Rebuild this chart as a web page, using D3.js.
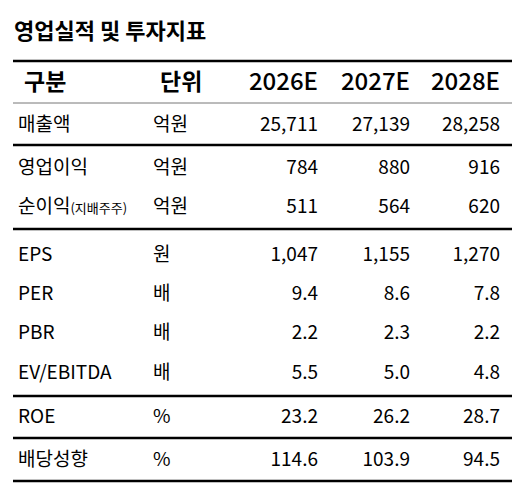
<!DOCTYPE html><html><head><meta charset="utf-8"><script src="https://cdn.jsdelivr.net/npm/d3@7"></script>
<style>body{margin:0;background:#fff}</style></head><body><svg id="c" width="520" height="495"></svg>
<script>
const title="영업실적 및 투자지표";
const headers=["구분","단위","2026E","2027E","2028E"];
const labels=["매출액","영업이익","순이익","EPS","PER","PBR","EV/EBITDA","ROE","배당성향"];
const units=["억원","억원","억원","원","배","배","배","%","%"];
const v2026=["25,711","784","511","1,047","9.4","2.2","5.5","23.2","114.6"];
const v2027=["27,139","880","564","1,155","8.6","2.3","5.0","26.2","103.9"];
const v2028=["28,258","916","620","1,270","7.8","2.2","4.8","28.7","94.5"];
const rowY=[124,167,206,254,293,332,372,416,459];
const lines=[[61,2.5,"#000"],[103,1,"#777"],[145,2.5,"#000"],[229,2.5,"#000"],[396,2.5,"#000"],[438,2.5,"#000"],[481,2.5,"#000"]];
const svg=d3.select("#c"),F="'Noto Sans CJK KR','Noto Sans',sans-serif";
svg.append("text").attr("x",14).attr("y",39).text(title).attr("font-family",F).attr("font-weight",700).attr("font-size",22);
lines.forEach(l=>svg.append("line").attr("x1",13).attr("x2",512).attr("y1",l[0]).attr("y2",l[0]).attr("stroke",l[2]).attr("stroke-width",l[1]));
const colX=[24,160,318,410,500],anch=["start","start","end","end","end"];
headers.forEach((h,i)=>svg.append("text").attr("x",colX[i]).attr("y",82).attr("dy","0.35em").attr("text-anchor",anch[i]).attr("font-family",F).attr("font-weight",i<2?700:500).attr("font-size",i<2?23:24).text(h));
labels.forEach((l,r)=>{
 const t=svg.append("text").attr("x",18).attr("y",rowY[r]).attr("dy","0.35em").attr("font-family",F).attr("font-size",19).text(l);
 if(l==="순이익")t.append("tspan").attr("font-size",13).text("(지배주주)");
 [units[r],v2026[r],v2027[r],v2028[r]].forEach((v,i)=>svg.append("text").attr("x",i==0?153:colX[i+1]).attr("y",rowY[r]).attr("dy","0.35em").attr("text-anchor",i==0?"start":"end").attr("font-family",F).attr("font-size",19).text(v));
});
</script></body></html>
